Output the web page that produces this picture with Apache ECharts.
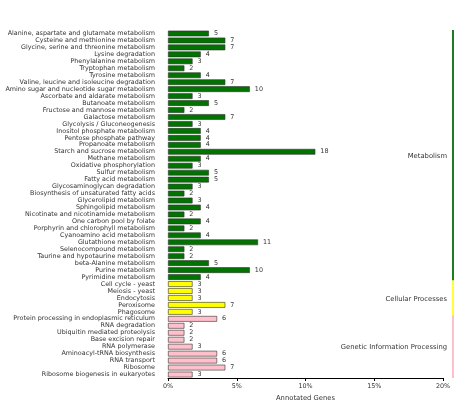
<!DOCTYPE html>
<html><head><meta charset="utf-8">
<script src="https://cdn.jsdelivr.net/npm/echarts@6/dist/echarts.min.js"></script>
<style>html,body{margin:0;padding:0;background:#fff}#c{width:476px;height:419px}</style>
</head><body><div id="c"></div>
<script>
const categories = [
 'Alanine, aspartate and glutamate metabolism','Cysteine and methionine metabolism','Glycine, serine and threonine metabolism',
 'Lysine degradation','Phenylalanine metabolism','Tryptophan metabolism','Tyrosine metabolism',
 'Valine, leucine and isoleucine degradation','Amino sugar and nucleotide sugar metabolism','Ascorbate and aldarate metabolism',
 'Butanoate metabolism','Fructose and mannose metabolism','Galactose metabolism','Glycolysis / Gluconeogenesis',
 'Inositol phosphate metabolism','Pentose phosphate pathway','Propanoate metabolism','Starch and sucrose metabolism',
 'Methane metabolism','Oxidative phosphorylation','Sulfur metabolism','Fatty acid metabolism',
 'Glycosaminoglycan degradation','Biosynthesis of unsaturated fatty acids','Glycerolipid metabolism','Sphingolipid metabolism',
 'Nicotinate and nicotinamide metabolism','One carbon pool by folate','Porphyrin and chlorophyll metabolism','Cyanoamino acid metabolism',
 'Glutathione metabolism','Selenocompound metabolism','Taurine and hypotaurine metabolism','beta-Alanine metabolism',
 'Purine metabolism','Pyrimidine metabolism',
 'Cell cycle - yeast','Meiosis - yeast','Endocytosis','Peroxisome','Phagosome',
 'Protein processing in endoplasmic reticulum','RNA degradation','Ubiquitin mediated proteolysis','Base excision repair',
 'RNA polymerase','Aminoacyl-tRNA biosynthesis','RNA transport','Ribosome','Ribosome biogenesis in eukaryotes'
];
const geneCounts = [5,7,7,4,3,2,4,7,10,3,5,2,7,3,4,4,4,18,4,3,5,5,3,2,3,4,2,4,2,4,11,2,2,5,10,4,
 3,3,3,7,3,
 6,2,2,2,3,6,6,7,3];
const groupNames = ['Metabolism','Cellular Processes','Genetic Information Processing'];
const groupSizes = [36,5,9];
const totalGenes = 168;
const xTickValues = [0,5,10,15,20];

const fillColors = ['#007300','#ffff00','#ffc0cb'];
const lineColors = ['#1b7d1b','#ffff33','#ffc0cb'];

const groupOfIndex = [];
const groupRanges = [];
let s = 0;
groupSizes.forEach((n, gi) => {
  for (let i = 0; i < n; i++) groupOfIndex.push(gi);
  groupRanges.push([0, s, s + n - 1, gi]);
  s += n;
});
const percents = geneCounts.map(c => c / totalGenes * 100);

const font = 'DejaVu Sans';
const chart = echarts.init(document.getElementById('c'), null, {renderer:'canvas'});
chart.setOption({
  animation:false,
  textStyle:{fontFamily:font},
  grid:{left:168,right:33,top:30,bottom:41,containLabel:false},
  xAxis:{type:'value',min:xTickValues[0],max:xTickValues[xTickValues.length-1],interval:5,
    axisLine:{show:true,lineStyle:{color:'#000',width:1}},
    axisTick:{show:true,length:3,lineStyle:{color:'#000'}},
    splitLine:{show:false},
    axisLabel:{formatter:'{value}%',fontSize:6.4,color:'#333',margin:5,fontFamily:font},
    name:'Annotated Genes',nameLocation:'middle',nameGap:17,
    nameTextStyle:{fontSize:6.8,color:'#333',fontFamily:font}},
  yAxis:{type:'category',inverse:true,data:categories,
    axisLine:{show:false},axisTick:{show:false},
    axisLabel:{interval:0,fontSize:6.4,color:'#333',margin:13,fontFamily:font}},
  series:[{
    type:'bar',data:percents,barCategoryGap:'18%',
    itemStyle:{color:p=>fillColors[groupOfIndex[p.dataIndex]],borderColor:'#333',borderWidth:0.6},
    label:{show:true,position:'right',distance:5,fontSize:6.4,color:'#333',fontFamily:font,
      formatter:p=>geneCounts[p.dataIndex]}
  },{
    type:'custom',data:groupRanges,encode:{x:0,y:1},clip:false,silent:true,
    renderItem:(params,api)=>{
      const cs = params.coordSys;
      const band = api.size([0,1])[1];
      const y0 = api.coord([0, api.value(1)])[1] - band/2;
      const y1 = api.coord([0, api.value(2)])[1] + band/2;
      const gi = api.value(3);
      const x = cs.x + cs.width + 10;
      return {type:'group',children:[
        {type:'rect',shape:{x:x-1,y:y0,width:2,height:y1-y0},style:{fill:lineColors[gi]}},
        {type:'text',style:{x:x-6,y:(y0+y1)/2+1,text:groupNames[gi],align:'right',verticalAlign:'middle',
          fontSize:6.8,fill:'#333',fontFamily:font}}
      ]};
    }
  }]
});
</script></body></html>
